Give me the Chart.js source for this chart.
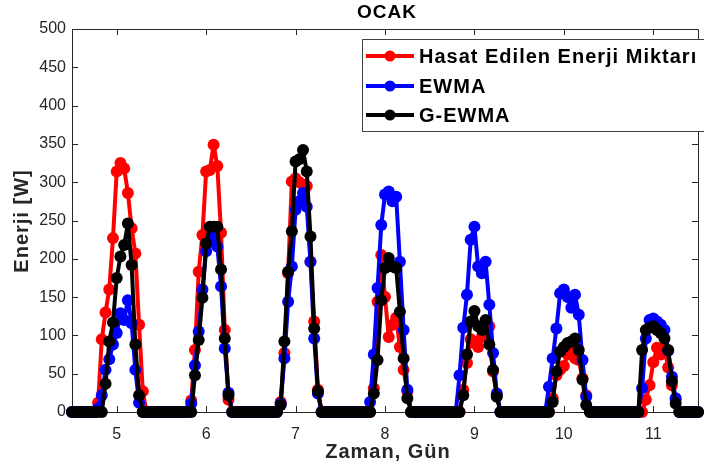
<!DOCTYPE html>
<html>
<head>
<meta charset="utf-8">
<script src="https://cdn.jsdelivr.net/npm/chart.js@4"></script>
<style>
  body { margin: 0; background: #fff; }
  canvas { display: block; }
</style>
</head>
<body>
<canvas id="ocakChart" width="704" height="470"></canvas>
<script>
// eksen etiketleri
const xTicks = [5, 6, 7, 8, 9, 10, 11];
const yTicks = [0, 50, 100, 150, 200, 250, 300, 350, 400, 450, 500];

// gösterilen zaman aralığı (saat cinsinden: 4.5 gün .. 11.5 gün)
const ilkSaat = 108;
const sonSaat = 276;

// her gün için gün işaretine göre saatler (-5 .. +7), gece değerleri 0
const gunler = [5, 6, 7, 8, 9, 10, 11];
const saatler = [-5, -4, -3, -2, -1, 0, 1, 2, 3, 4, 5, 6, 7];

const hasat = [
  [12, 95, 130, 160, 227, 314, 325, 318, 286, 240, 207, 114, 27],
  [0, 15, 81, 183, 231, 314, 316, 349, 321, 234, 107, 16, 0],
  [0, 13, 77, 181, 301, 305, 300, 297, 295, 196, 118, 29, 0],
  [0, 0, 31, 144, 205, 150, 98, 114, 123, 85, 55, 27, 0],
  [0, 0, 29, 64, 95, 90, 85, 98, 107, 112, 53, 22, 0],
  [0, 0, 18, 48, 55, 60, 75, 79, 70, 68, 44, 22, 0],
  [0, 0, 0, 16, 35, 65, 84, 75, 84, 58, 35, 16, 0]
];

const ewma = [
  [5, 22, 55, 69, 88, 103, 129, 120, 146, 116, 55, 12, 0],
  [0, 11, 61, 105, 160, 210, 222, 228, 216, 164, 83, 25, 0],
  [0, 11, 70, 144, 190, 264, 275, 286, 268, 196, 96, 24, 0],
  [0, 13, 75, 162, 244, 284, 288, 275, 281, 196, 107, 29, 0],
  [0, 48, 110, 153, 225, 242, 190, 181, 196, 140, 77, 24, 0],
  [0, 33, 70, 109, 155, 160, 150, 136, 153, 127, 68, 20, 0],
  [0, 0, 31, 96, 120, 122, 118, 114, 107, 80, 46, 18, 0]
];

const gewma = [
  [0, 0, 37, 92, 117, 175, 203, 218, 246, 192, 88, 22, 0],
  [0, 0, 48, 94, 149, 220, 242, 242, 242, 186, 96, 22, 0],
  [0, 9, 92, 183, 236, 327, 330, 342, 314, 229, 109, 27, 0],
  [0, 0, 24, 68, 146, 188, 201, 190, 188, 131, 70, 18, 0],
  [0, 0, 22, 75, 118, 132, 112, 107, 120, 88, 55, 20, 0],
  [0, 0, 13, 53, 79, 85, 90, 92, 96, 81, 42, 9, 0],
  [0, 0, 81, 107, 110, 112, 107, 103, 96, 81, 40, 11, 0]
];

const seriAdlari = ["Hasat Edilen Enerji Miktarı", "EWMA", "G-EWMA"];
const renkler = ["#ff0000", "#0000ff", "#000000"];

// saatlik noktalar: gündüz değerleri tablodan, gece 0
function seri(tablo) {
  const pts = [];
  for (let k = ilkSaat; k <= sonSaat; k++) {
    const gun = Math.round(k / 24);
    const g = gunler.indexOf(gun);
    const s = saatler.indexOf(k - gun * 24);
    pts.push({ x: k / 24, y: (g >= 0 && s >= 0) ? tablo[g][s] : 0 });
  }
  return pts;
}

const axisColor = "#262626";
const fontFam = "'Liberation Sans', Arial, Helvetica, sans-serif";

const matlabAxes = {
  id: "matlabAxes",
  beforeDatasetsDraw(chart) {
    const { ctx, chartArea: a, scales } = chart;
    ctx.save();
    ctx.strokeStyle = axisColor;
    ctx.lineWidth = 1;
    ctx.beginPath();
    ctx.rect(a.left + 0.5, a.top + 0.5, a.right - a.left, a.bottom - a.top);
    const tl = 6;
    xTicks.forEach(v => {
      const px = Math.round(scales.x.getPixelForValue(v)) + 0.5;
      ctx.moveTo(px, a.bottom); ctx.lineTo(px, a.bottom - tl);
      ctx.moveTo(px, a.top); ctx.lineTo(px, a.top + tl);
    });
    yTicks.forEach(v => {
      const py = Math.round(scales.y.getPixelForValue(v)) + 0.5;
      ctx.moveTo(a.left, py); ctx.lineTo(a.left + tl, py);
      ctx.moveTo(a.right, py); ctx.lineTo(a.right - tl, py);
    });
    ctx.stroke();
    ctx.restore();
  },
  afterDraw(chart) {
    const { ctx } = chart;
    ctx.save();
    ctx.letterSpacing = "1px";
    ctx.fillStyle = "#000";
    ctx.textAlign = "center";
    ctx.textBaseline = "middle";
    ctx.font = "bold 19px " + fontFam;
    ctx.fillText("OCAK", 387, 13);

    ctx.fillStyle = axisColor;
    ctx.font = "bold 20px " + fontFam;
    ctx.fillText("Zaman, Gün", 388, 452);
    ctx.save();
    ctx.translate(22, 221);
    ctx.rotate(-Math.PI / 2);
    ctx.fillText("Enerji [W]", 0, 0);
    ctx.restore();

    // lejant
    const bx = 362, by = 39, bh = 92;
    ctx.fillStyle = "#fff";
    ctx.fillRect(bx, by, 360, bh);
    ctx.strokeStyle = "#404040";
    ctx.lineWidth = 1;
    ctx.strokeRect(bx + 0.5, by + 0.5, 360, bh);
    const rows = [56, 86, 115];
    ctx.textAlign = "left";
    ctx.font = "bold 20px " + fontFam;
    seriAdlari.forEach((ad, i) => {
      const y = rows[i];
      ctx.strokeStyle = renkler[i];
      ctx.fillStyle = renkler[i];
      ctx.lineWidth = 4;
      ctx.beginPath();
      ctx.moveTo(366, y); ctx.lineTo(414, y);
      ctx.stroke();
      ctx.beginPath();
      ctx.arc(390, y, 5.5, 0, Math.PI * 2);
      ctx.fill();
      ctx.fillStyle = "#000";
      ctx.fillText(ad, 419, y + 1);
    });
    ctx.restore();
  }
};

function dataset(i, tablo, sira) {
  return {
    label: seriAdlari[i],
    data: seri(tablo),
    borderColor: renkler[i],
    backgroundColor: renkler[i],
    pointBackgroundColor: renkler[i],
    pointBorderColor: renkler[i],
    pointRadius: 6,
    pointBorderWidth: 0,
    borderWidth: 4,
    borderJoinStyle: "round",
    borderCapStyle: "round",
    tension: 0,
    clip: false,
    order: sira
  };
}

new Chart(document.getElementById("ocakChart"), {
  type: "line",
  data: {
    datasets: [
      dataset(0, hasat, 3),
      dataset(1, ewma, 2),
      dataset(2, gewma, 1)
    ]
  },
  options: {
    responsive: false,
    animation: false,
    layout: { padding: { top: 29, left: 0, right: 0, bottom: 0 } },
    plugins: {
      legend: { display: false },
      tooltip: { enabled: false },
      title: { display: false }
    },
    scales: {
      x: {
        type: "linear",
        min: 4.5,
        max: 11.5,
        afterBuildTicks: s => { s.ticks = xTicks.map(v => ({ value: v })); },
        afterFit: s => { s.height = 58; },
        grid: { display: false, drawTicks: false },
        border: { display: false },
        ticks: {
          padding: 13,
          color: axisColor,
          font: { family: fontFam, size: 16 },
          maxRotation: 0,
          callback: v => String(v)
        }
      },
      y: {
        min: 0,
        max: 500,
        afterBuildTicks: s => { s.ticks = yTicks.map(v => ({ value: v })); },
        afterFit: s => { s.width = 72; },
        grid: { display: false, drawTicks: false },
        border: { display: false },
        ticks: {
          padding: 6,
          color: axisColor,
          font: { family: fontFam, size: 16 },
          callback: v => String(v)
        }
      }
    }
  },
  plugins: [matlabAxes]
});
</script>
</body>
</html>
